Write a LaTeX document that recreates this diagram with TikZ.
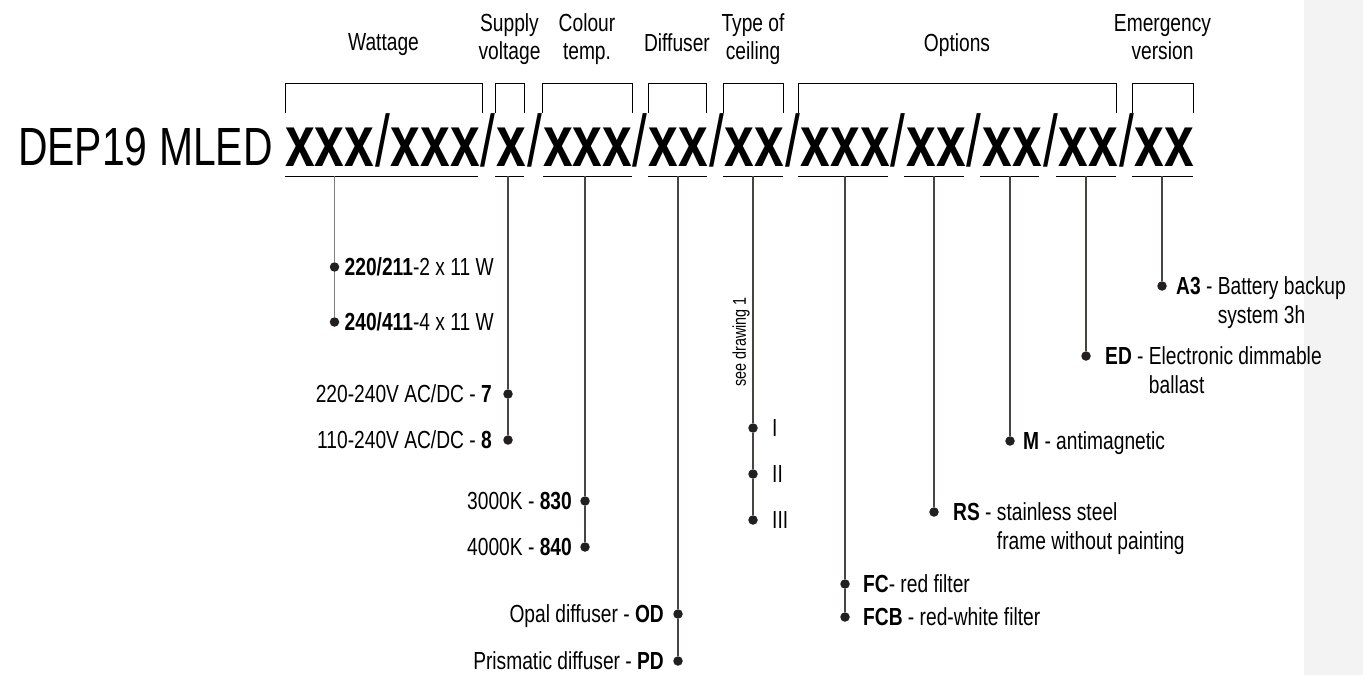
\documentclass[tikz,border=0pt]{standalone}
\usepackage{fontspec}
\setmainfont{Liberation Sans}[FakeStretch=0.777]
\newfontfamily\titlefont{Liberation Sans}[FakeStretch=0.76]
\newfontfamily\codefont{Liberation Sans}[FakeStretch=0.73]
\usetikzlibrary{positioning}

\definecolor{linec}{RGB}{72,68,66}
\definecolor{dotc}{RGB}{35,31,32}
\definecolor{stripc}{RGB}{243,243,243}

\def\lblfont{\fontsize{24.7}{28.5}\selectfont}
\def\slashsep{\kern1pt{\mdseries/}\kern1pt}
\newcommand\headtwo[2]{\begin{tabular}[t]{@{}c@{}}#1\\#2\end{tabular}}
\newcommand\lbltwo[2]{\begin{tabular}[t]{@{}l@{}}#1\\#2\end{tabular}}

\begin{document}
\begin{tikzpicture}[
    x=1pt, y=-1pt,
    dot/.style={circle,fill=dotc,inner sep=0pt,minimum size=9.5pt},
    lead/.style={draw=linec,line width=1.2pt},
    bracket/.style={draw=linec!85,line width=1pt},
    head/.style={font=\lblfont,inner sep=0pt,anchor=base},
    lblR/.style={font=\lblfont,inner sep=0pt,anchor=base west,xshift=#1,yshift=-8.5pt},
    lblL/.style={font=\lblfont,inner sep=0pt,anchor=base east,xshift=-#1,yshift=-8.5pt},
    ]
\def\ul{176}  % y of the underlines
\def\bt{83}   % y of the bracket tops
\def\bb{113}  % y of the bracket feet

    \useasboundingbox (0,0) rectangle (1363,675);
    \fill[stripc] (1304,0) rectangle (1363,675);

    %% Type code
    \node[font=\titlefont\fontsize{53.8}{60}\selectfont,inner sep=0pt,anchor=base west]
        (title) at (18,165) {DEP19 MLED};
    \node[font=\codefont\bfseries\fontsize{73}{80}\selectfont,inner sep=0pt,anchor=base west]
        (code) at (285,166)
        {xxx\slashsep xxx\slashsep x\slashsep xxx\slashsep xx\slashsep xx\slashsep
         xxx\slashsep xx\slashsep xx\slashsep xx\slashsep xx};

    %% Headings and their brackets
    \node[head] (hwatt) at (383.5,50) {Wattage};
    \node[head] (hsup) at (509.5,31) {\headtwo{Supply}{voltage}};
    \node[head] (hcol) at (587,31) {\headtwo{Colour}{temp.}};
    \node[head] (hdif) at (677,51) {Diffuser};
    \node[head] (htyp) at (753,31) {\headtwo{Type of}{ceiling}};
    \node[head] (hopt) at (957,51) {Options};
    \node[head] (hemg) at (1162.5,31) {\headtwo{Emergency}{version}};

    {[bracket]
        \draw (285,\bb) |- (482,\bt) -- (482,\bb);
        \draw (495,\bb) |- (524,\bt) -- (524,\bb);
        \draw (542,\bb) |- (632,\bt) -- (632,\bb);
        \draw (648,\bb) |- (706,\bt) -- (706,\bb);
        \draw (723,\bb) |- (783,\bt) -- (783,\bb);
        \draw (798,\bb) |- (1116,\bt) -- (1116,\bb);
        \draw (1132,\bb) |- (1193,\bt) -- (1193,\bb);
    }

    % Underlines below the code
    {[bracket]
        \draw (285,\ul) -- (478,\ul);
        \draw (495,\ul) -- (524,\ul);
        \draw (543,\ul) -- (632,\ul);
        \draw (648,\ul) -- (707,\ul);
        \draw (723,\ul) -- (783,\ul);
        \draw (798,\ul) -- (888,\ul);
        \draw (904,\ul) -- (964,\ul);
        \draw (980,\ul) -- (1039,\ul);
        \draw (1056,\ul) -- (1116,\ul);
        \draw (1132,\ul) -- (1193,\ul);
    }

    %% Wattage
    \coordinate (w0) at (334.5,\ul);
    \node[dot] (w1) at (334.5,267) {};
    \node[dot] (w2) at (334.5,322) {};
    \draw[lead,draw=linec!70] (w0) -- (w1) -- (w2);
    \node[lblR=10pt] at (w1) {\textbf{220/211}-2 x 11 W};
    \node[lblR=10pt] at (w2) {\textbf{240/411}-4 x 11 W};

    %% Supply voltage
    \coordinate (s0) at (508,\ul);
    \node[dot] (s1) at (508,394) {};
    \node[dot] (s2) at (508,440) {};
    \draw[lead] (s0) -- (s1) -- (s2);
    \node[lblL=16pt] at (s1) {220-240V AC/DC - \textbf{7}};
    \node[lblL=16pt] at (s2) {110-240V AC/DC - \textbf{8}};

    %% Colour temperature
    \coordinate (c0) at (585,\ul);
    \node[dot] (c1) at (585,501) {};
    \node[dot] (c2) at (585,547) {};
    \draw[lead] (c0) -- (c1) -- (c2);
    \node[lblL=13pt] at (c1) {3000K - \textbf{830}};
    \node[lblL=13pt] at (c2) {4000K - \textbf{840}};

    %% Diffuser
    \coordinate (d0) at (678,\ul);
    \node[dot] (d1) at (678,614) {};
    \node[dot] (d2) at (678,661) {};
    \draw[lead] (d0) -- (d1) -- (d2);
    \node[lblL=14pt] at (d1) {Opal diffuser - \textbf{OD}};
    \node[lblL=14pt] at (d2) {Prismatic diffuser - \textbf{PD}};

    %% Type of ceiling
    \coordinate (t0) at (753,\ul);
    \node[dot] (t1) at (753,428) {};
    \node[dot] (t2) at (753,474) {};
    \node[dot] (t3) at (753,520) {};
    \draw[lead] (t0) -- (t1) -- (t2) -- (t3);
    \node[lblR=19pt] at (t1) {I};
    \node[lblR=19pt] at (t2) {II};
    \node[lblR=19pt] at (t3) {III};
    \node[font=\fontsize{18.5}{20}\selectfont,inner sep=0pt,rotate=90,anchor=south]
        (seedr) at (750,342) {see drawing 1};

    %% Options
    \coordinate (o0) at (845,\ul);
    \node[dot] (o1) at (845,584) {};
    \node[dot] (o2) at (845,617) {};
    \draw[lead] (o0) -- (o1) -- (o2);
    \node[lblR=18pt] at (o1) {\textbf{FC}- red filter};
    \node[lblR=18pt] at (o2) {\textbf{FCB} - red-white filter};

    \coordinate (r0) at (934,\ul);
    \node[dot] (r1) at (934,512) {};
    \draw[lead] (r0) -- (r1);
    \node[lblR=19pt] at (r1)
        {\lbltwo{\textbf{RS} - stainless steel}{\phantom{\textbf{RS} - }frame without painting}};

    \coordinate (m0) at (1010,\ul);
    \node[dot] (m1) at (1010,441) {};
    \draw[lead] (m0) -- (m1);
    \node[lblR=13pt] at (m1) {\textbf{M} - antimagnetic};

    \coordinate (e0) at (1086,\ul);
    \node[dot] (e1) at (1086,356) {};
    \draw[lead] (e0) -- (e1);
    \node[lblR=19pt] at (e1)
        {\lbltwo{\textbf{ED} - Electronic dimmable}{\phantom{\textbf{ED} - }ballast}};

    %% Emergency version
    \coordinate (a0) at (1162,\ul);
    \node[dot] (a1) at (1162,286) {};
    \draw[lead] (a0) -- (a1);
    \node[lblR=14pt] at (a1)
        {\lbltwo{\textbf{A3} - Battery backup}{\phantom{\textbf{A3} - }system 3h}};
\end{tikzpicture}
\end{document}
